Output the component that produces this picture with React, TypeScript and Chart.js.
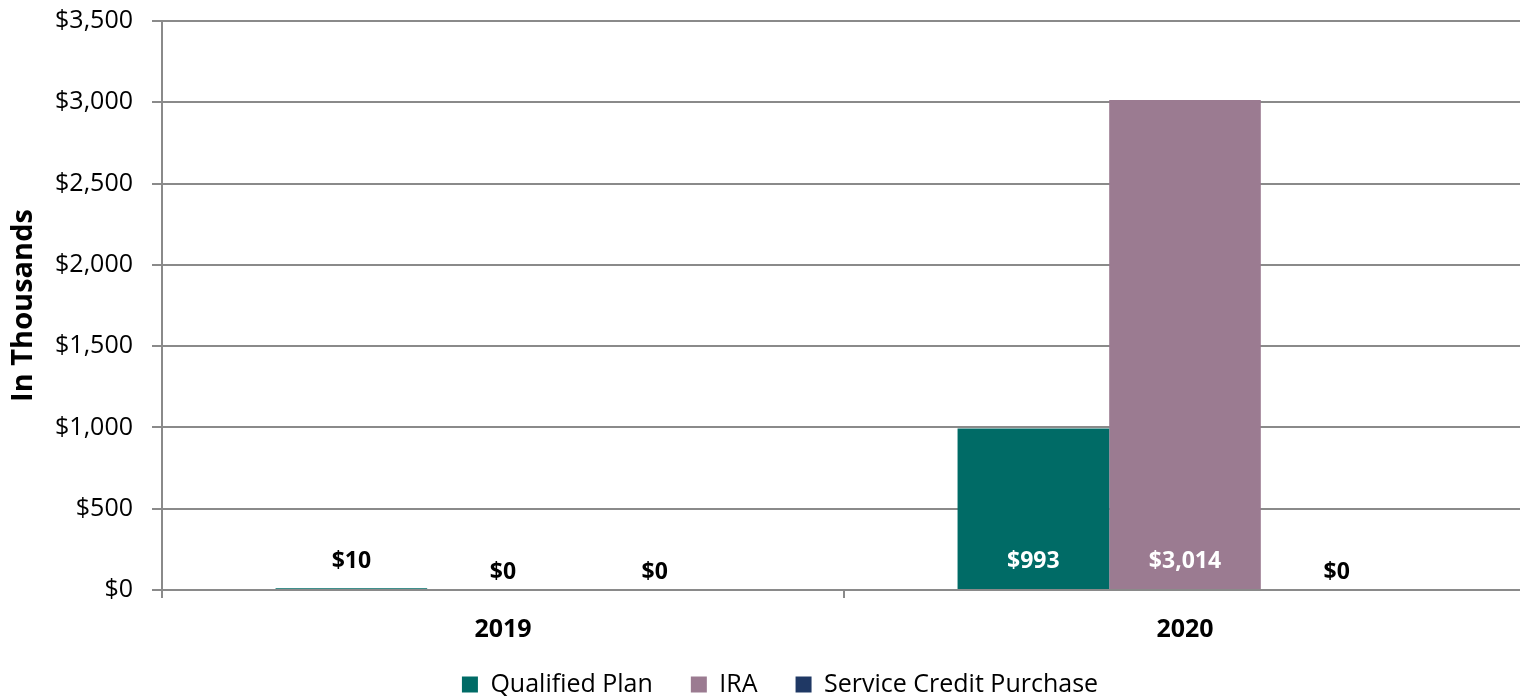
import React, { useEffect, useRef } from 'react';
import { Chart, registerables } from 'chart.js';

Chart.register(...registerables);

const categories = ['2019', '2020'];
const seriesNames = ['Qualified Plan', 'IRA', 'Service Credit Purchase'];
const qualifiedPlan = [10, 993];
const ira = [0, 3014];
const serviceCreditPurchase = [0, 0];
const seriesColors = ['#006B66', '#9B7B91', '#1F3864'];
const yMin = 0;
const yMax = 3500;
const yStep = 500;
const yTitle = 'In Thousands';

const FONT = "'Open Sans', 'Noto Sans', sans-serif";
const GRID = '#8a8a8a';

const fmt = (v: number) => '$' + v.toLocaleString('en-US');

const dataLabelPlugin = {
  id: 'dataLabels',
  afterDatasetsDraw(chart: any) {
    const ctx = chart.ctx;
    ctx.save();
    ctx.font = `bold 23px ${FONT}`;
    ctx.textAlign = 'center';
    ctx.textBaseline = 'middle';
    chart.data.datasets.forEach((ds: any, i: number) => {
      const meta = chart.getDatasetMeta(i);
      meta.data.forEach((bar: any, j: number) => {
        const v = ds.data[j];
        const base = bar.base;
        const h = base - bar.y;
        const y = v === 0 ? base - 18 : base - 28;
        ctx.fillStyle = h > 40 ? '#ffffff' : '#000000';
        ctx.fillText(fmt(v), bar.x, y);
      });
    });
    ctx.restore();
  },
};

const legendLayoutPlugin = {
  id: 'legendLayout',
  afterInit(chart: any) {
    const legend = chart.legend;
    if (legend && !legend.__patched) {
      const orig = legend.fit;
      legend.fit = function () {
        orig.call(this);
        this.height = 54;
      };
      legend.__patched = true;
    }
  },
  afterLayout(chart: any) {
    const lg = chart.legend;
    if (lg) {
      lg.left += 17;
      lg.right += 17;
      lg.top -= 11;
      lg.bottom = chart.height;
      lg.height = lg.bottom - lg.top;
    }
  },
};

export default function App() {
  const canvasRef = useRef<HTMLCanvasElement | null>(null);

  useEffect(() => {
    document.body.style.margin = '0';
    const canvas = canvasRef.current;
    if (!canvas) return;
    const values = [qualifiedPlan, ira, serviceCreditPurchase];
    const chart = new Chart(canvas, {
      type: 'bar',
      data: {
        labels: categories,
        datasets: seriesNames.map((name, i) => ({
          label: name,
          data: values[i],
          backgroundColor: seriesColors[i],
          borderWidth: 0,
          categoryPercentage: 0.667,
          barPercentage: 1,
        })),
      },
      options: {
        responsive: false,
        animation: false,
        layout: { padding: { top: 21, left: 0, right: 0, bottom: 0 } },
        plugins: {
          legend: {
            position: 'bottom',
            labels: {
              font: { family: FONT, size: 25 },
              color: '#000',
              boxWidth: 16,
              boxHeight: 16,
              padding: 38,
            },
          },
          tooltip: { enabled: false },
        },
        scales: {
          x: {
            grid: {
              display: true,
              drawOnChartArea: false,
              drawTicks: true,
              tickLength: 8,
              color: GRID,
              lineWidth: 2,
              offset: true,
            },
            border: { display: true, color: GRID, width: 2 },
            ticks: {
              font: { family: FONT, size: 25, weight: 'bold' },
              color: '#000',
              padding: 17,
            },
            afterFit(scale: any) {
              scale.height = 55;
              scale.paddingLeft = 0;
              scale.paddingRight = 0;
            },
          },
          y: {
            min: yMin,
            max: yMax,
            ticks: {
              stepSize: yStep,
              font: { family: FONT, size: 25 },
              color: '#000',
              padding: 19,
              callback: (v: any) => fmt(Number(v)),
            },
            grid: {
              color: GRID,
              lineWidth: 2,
              drawTicks: true,
              tickLength: 10,
            },
            border: { display: true, color: GRID, width: 2 },
            title: {
              display: true,
              text: yTitle,
              font: { family: FONT, size: 29, weight: 'bold' },
              color: '#000',
              padding: { top: 6, bottom: 0 },
            },
            afterFit(scale: any) {
              scale.width = 162;
              scale.paddingTop = 0;
              scale.paddingBottom = 0;
            },
          },
        },
      },
      plugins: [dataLabelPlugin, legendLayoutPlugin],
    });
    return () => chart.destroy();
  }, []);

  return (
    <div style={{ width: 1520, height: 699, overflow: 'hidden', position: 'relative', background: '#fff' }}>
      <canvas ref={canvasRef} width={1526} height={699} style={{ display: 'block' }} />
    </div>
  );
}
